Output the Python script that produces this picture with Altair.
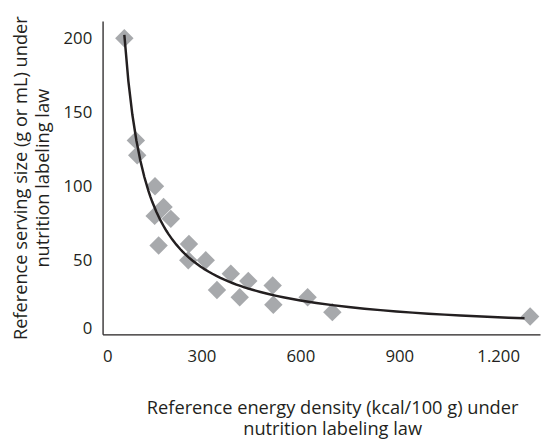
import altair as alt
import pandas as pd

energy_density = [66, 101, 105, 159, 185, 158, 207, 170, 262, 260, 313, 389, 347, 442, 416, 516, 518, 622, 697, 1297]
serving_size = [200, 131, 121, 100, 86, 80, 78, 60, 61, 50, 50, 41, 30, 36, 25, 33, 20, 25, 15, 12]
x_ticks = [0, 300, 600, 900, 1200]
y_ticks = [0, 50, 100, 150, 200]

df = pd.DataFrame({"x": energy_density, "y": serving_size})

FONT = "Open Sans"
INK = "#231f20"

xscale = alt.Scale(domain=[0, 1327], nice=False, zero=False)
yscale = alt.Scale(domain=[0, 211.6], nice=False)

xaxis = alt.Axis(
    values=x_ticks, ticks=False, grid=False, domainColor=INK, domainWidth=1.3,
    labelFont=FONT, labelFontSize=17, labelColor=INK, labelPadding=15,
    labelExpr="replace(format(datum.value, ','), ',', '.')",
    title=["Reference energy density (kcal/100 g) under", "nutrition labeling law"],
    titleFont=FONT, titleFontSize=18.5, titleFontWeight="normal", titleColor=INK,
    titlePadding=34, titleX=233, titleLineHeight=22,
)
yaxis = alt.Axis(
    values=y_ticks, ticks=False, grid=False, domainColor=INK, domainWidth=1.3,
    labelFont=FONT, labelFontSize=17, labelColor=INK, labelPadding=11,
    labelOffset={"condition": {"test": "datum.value == 0", "value": -6}, "value": 0},
    title=["Reference serving size (g or mL) under", "nutrition labeling law"],
    titleFont=FONT, titleFontSize=18.5, titleFontWeight="normal", titleColor=INK,
    titlePadding=11, titleLineHeight=22,
)

points = alt.Chart(df).mark_point(
    shape="diamond", filled=True, size=350, color="#a7a9ac", opacity=1
).encode(
    x=alt.X("x:Q", scale=xscale, axis=xaxis),
    y=alt.Y("y:Q", scale=yscale, axis=yaxis),
)

curve = alt.Chart(df).transform_regression(
    "x", "y", method="pow", extent=[66, 1280]
).mark_line(color=INK, strokeWidth=2.5).encode(
    x=alt.X("x:Q", scale=xscale),
    y=alt.Y("y:Q", scale=yscale),
)

chart = alt.layer(points, curve).properties(
    width=444, height=318,
    autosize=alt.AutoSizeParams(type="none"),
    padding={"left": 96, "top": 10, "right": 1, "bottom": 105},
).configure_view(stroke=None)

chart.save("out.html", embed_options={"renderer": "svg", "actions": False})
